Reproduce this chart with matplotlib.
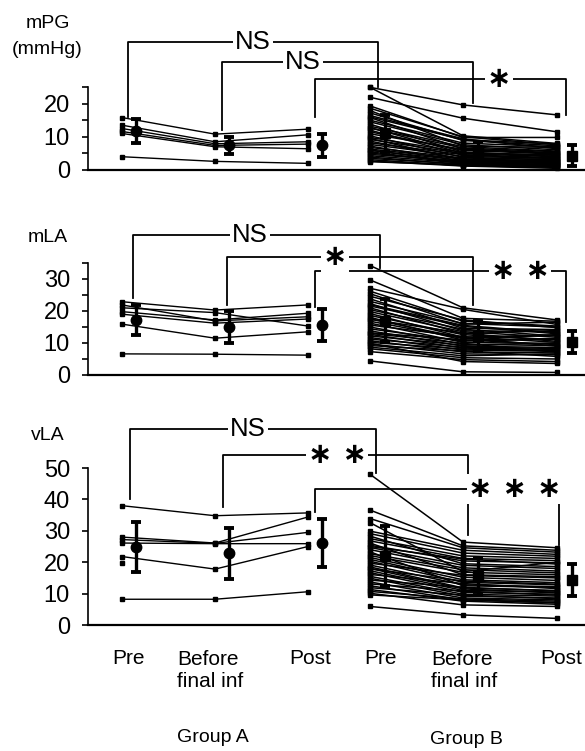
import numpy as np
import matplotlib
matplotlib.use("Agg")
import matplotlib.pyplot as plt
from matplotlib.lines import Line2D

# ---------------- data ----------------
time_labels = ["Pre", "Before\nfinal inf", "Post"]
group_labels = ["Group A", "Group B"]
panel_names = ["mPG\n(mmHg)", "mLA", "vLA"]

# Panel 1: mPG (mmHg)
mpg_A_pre = [15.8, 13.5, 12.5, 11.6, 11.0, 4.0]
mpg_A_bef = [10.8, 8.5, 7.9, 7.4, 7.0, 2.6]
mpg_A_post = [12.3, 10.6, 8.5, 7.8, 6.4, 2.0]
mpg_B_pre = [24.9, 24.9, 21.9, 19.3, 18.6, 17.9, 17.2, 16.4, 15.8, 15.0, 14.5, 13.8, 13.2, 12.6,
             12.0, 11.5, 10.9, 10.3, 9.8, 9.2, 8.7, 8.2, 7.7, 7.2, 6.8, 6.3, 5.9, 5.5, 5.1, 4.7,
             4.3, 3.9, 3.5, 3.1, 2.7, 2.5, 16.0, 12.8, 9.5, 6.0]
mpg_B_bef = [19.6, 10.3, 15.6, 9.8, 10.0, 7.2, 8.9, 9.4, 6.3, 8.1, 7.6, 5.4, 7.0, 6.6,
             4.5, 5.9, 6.2, 3.8, 5.3, 4.9, 3.2, 4.6, 4.1, 2.6, 3.6, 3.3, 2.9, 1.9, 2.4, 2.7,
             2.1, 1.6, 1.8, 1.3, 1.2, 1.5, 9.1, 5.0, 3.0, 2.2]
mpg_B_post = [16.6, 8.0, 11.5, 9.8, 7.6, 6.8, 7.3, 6.4, 5.2, 7.0, 6.1, 4.1, 5.7, 5.5,
              3.4, 4.8, 5.0, 3.0, 4.4, 4.0, 2.6, 3.7, 3.5, 2.0, 3.2, 2.8, 2.4, 1.4, 2.2, 1.9,
              1.6, 1.1, 1.3, 0.8, 0.5, 0.9, 7.8, 4.6, 2.5, 1.7]
mpg_A_mean = [11.8, 7.4, 7.4]
mpg_A_sd = [3.6, 2.6, 3.4]
mpg_B_mean = [11.0, 5.5, 4.3]
mpg_B_sd = [5.5, 3.0, 3.2]

# Panel 2: mLA
mla_A_pre = [22.9, 21.9, 19.8, 19.0, 21.0, 15.9, 6.6]
mla_A_bef = [20.3, 16.9, 17.2, 16.2, 19.5, 11.5, 6.5]
mla_A_post = [21.9, 18.2, 19.3, 17.5, 15.3, 13.5, 6.2]
mla_B_pre = [34.2, 29.7, 27.1, 26.2, 25.4, 24.6, 23.8, 23.0, 22.3, 21.6, 21.0, 20.4, 19.8, 19.2,
             18.6, 18.0, 17.4, 16.8, 16.2, 15.6, 15.0, 14.4, 13.8, 13.2, 12.7, 12.2, 11.7, 11.2,
             10.7, 10.2, 9.7, 9.2, 8.7, 8.2, 7.3, 4.4, 22.0, 17.5, 13.0, 9.9]
mla_B_bef = [21.0, 17.7, 20.5, 16.8, 15.9, 17.2, 14.6, 16.1, 13.8, 15.2, 12.9, 14.3, 13.5, 11.8,
             12.6, 10.9, 13.1, 11.4, 10.2, 12.0, 9.6, 10.6, 9.0, 11.0, 8.4, 9.3, 7.8, 8.7,
             7.2, 8.1, 6.6, 7.5, 6.0, 5.4, 4.8, 1.0, 15.5, 11.6, 9.9, 4.2]
mla_B_post = [17.2, 16.8, 15.8, 15.3, 16.5, 14.8, 14.2, 15.0, 13.6, 12.9, 13.9, 12.2, 11.8, 12.6,
              11.0, 11.4, 10.5, 12.4, 9.8, 10.2, 9.2, 11.2, 8.6, 9.5, 8.0, 10.0, 7.4, 8.3,
              6.9, 7.7, 6.3, 5.8, 6.6, 5.0, 4.2, 0.8, 13.2, 9.0, 7.1, 3.6]
mla_A_mean = [17.2, 14.9, 15.6]
mla_A_sd = [4.6, 5.0, 4.9]
mla_B_mean = [17.0, 12.3, 10.2]
mla_B_sd = [6.8, 4.7, 3.4]

# Panel 3: vLA
vla_A_pre = [38.0, 28.0, 27.2, 26.1, 21.8, 8.2, 19.9]
vla_A_bef = [34.8, 26.1, 26.0, 25.9, 17.8, 8.2, np.nan]
vla_A_post = [35.7, 34.4, 29.5, 25.9, 25.0, 10.6, np.nan]
vla_B_pre = [48.0, 36.6, 33.9, 32.6, 29.9, 29.1, 28.3, 27.5, 26.8, 26.1, 25.4, 24.7, 24.0, 23.3,
             22.7, 22.1, 21.5, 20.9, 20.3, 19.7, 19.1, 18.5, 17.9, 17.3, 16.7, 16.1, 15.5, 14.9,
             14.3, 13.7, 13.1, 12.5, 11.9, 11.3, 10.7, 10.1, 9.6, 5.9, 25.0, 18.0]
vla_B_bef = [26.4, 25.2, 24.6, 17.0, 23.8, 22.9, 19.5, 22.0, 21.2, 16.0, 20.4, 19.0, 18.2, 12.5,
             17.6, 16.8, 15.2, 14.4, 13.6, 15.8, 12.8, 11.8, 14.0, 11.0, 10.4, 13.2, 9.8, 9.2,
             12.0, 8.6, 10.8, 8.0, 9.5, 7.6, 8.3, 6.4, 8.0, 3.2, 21.0, 11.5]
vla_B_post = [24.6, 23.8, 23.2, 20.0, 22.5, 21.9, 18.6, 21.2, 20.5, 15.4, 19.8, 18.0, 17.2, 12.0,
              16.6, 16.0, 14.2, 13.5, 12.8, 15.0, 12.2, 11.0, 13.0, 10.5, 9.8, 11.6, 9.2, 8.6,
              10.8, 8.0, 9.5, 7.2, 8.4, 6.6, 7.6, 5.9, 7.0, 2.1, 19.4, 10.2]
vla_A_mean = [24.8, 22.8, 26.2]
vla_A_sd = [8.0, 8.0, 7.7]
vla_B_mean = [21.9, 15.5, 14.3]
vla_B_sd = [9.5, 5.9, 5.0]

panels = [
    dict(A=(mpg_A_pre, mpg_A_bef, mpg_A_post), B=(mpg_B_pre, mpg_B_bef, mpg_B_post),
         Am=mpg_A_mean, As=mpg_A_sd, Bm=mpg_B_mean, Bs=mpg_B_sd,
         ylim=25, major=[0, 10, 20], minor=[5, 15, 25]),
    dict(A=(mla_A_pre, mla_A_bef, mla_A_post), B=(mla_B_pre, mla_B_bef, mla_B_post),
         Am=mla_A_mean, As=mla_A_sd, Bm=mla_B_mean, Bs=mla_B_sd,
         ylim=35, major=[0, 10, 20, 30], minor=[5, 15, 25, 35]),
    dict(A=(vla_A_pre, vla_A_bef, vla_A_post), B=(vla_B_pre, vla_B_bef, vla_B_post),
         Am=vla_A_mean, As=vla_A_sd, Bm=vla_B_mean, Bs=vla_B_sd,
         ylim=50, major=[0, 10, 20, 30, 40, 50], minor=[]),
]

# ---------------- layout ----------------
W, H = 585, 751
def fx(px):
    return px / W
def fy(py):
    return 1 - py / H

xA = np.array([0.0, 1.0, 2.0])
xB = np.array([2.667, 3.667, 4.677])
offA, offB = 0.15, 0.16
axes_px = [(170, 87), (375, 263), (625, 468)]

fig = plt.figure(figsize=(W / 100, H / 100), dpi=100)
TF = "Liberation Sans"

for (y0, y1), p in zip(axes_px, panels):
    ax = fig.add_axes([fx(88), fy(y0), 1 - fx(88), (y0 - y1) / H])
    ax.set_xlim((88 - 122) / 93, (585 - 122) / 93)
    ax.set_ylim(0, p["ylim"])
    for s in ("top", "right"):
        ax.spines[s].set_visible(False)
    ax.spines["left"].set_linewidth(1.2)
    ax.spines["bottom"].set_linewidth(1.6)
    ax.set_xticks([])
    ax.set_yticks(p["major"])
    ax.set_yticks(p["minor"], minor=True)
    ax.tick_params(axis="y", which="both", length=4, width=1.2, direction="out", pad=9,
                   labelsize=17)
    for lab in ax.get_yticklabels():
        lab.set_family(TF)

    A = np.array(p["A"], dtype=float)
    for i in range(A.shape[1]):
        ax.plot(xA, A[:, i], "-", color="black", lw=1.0, marker="s", ms=2.8, clip_on=False)
    B = np.array(p["B"], dtype=float)
    for i in range(B.shape[1]):
        ax.plot(xB, B[:, i], "-", color="black", lw=1.1, marker="s", ms=2.6, clip_on=False)
    ax.errorbar(xA + offA, p["Am"], yerr=p["As"], fmt="o", color="black", ms=7.5,
                elinewidth=2.4, capsize=3.5, capthick=2.8, zorder=5)
    ax.errorbar(xB + offB, p["Bm"], yerr=p["Bs"], fmt="s", color="black", ms=7.5,
                elinewidth=2.4, capsize=3.5, capthick=2.8, zorder=5)

# y labels
fig.text(fx(48), fy(24), "mPG", ha="center", va="center", fontsize=14, family=TF)
fig.text(fx(47), fy(50), "(mmHg)", ha="center", va="center", fontsize=14, family=TF)
fig.text(fx(48), fy(238), "mLA", ha="center", va="center", fontsize=14, family=TF)
fig.text(fx(48), fy(436), "vLA", ha="center", va="center", fontsize=14, family=TF)

# significance brackets: (x_left, y_left_end, y_top, x_right, y_right_end, label, label_x)
brackets = [
    (128, 117, 42, 378, 87, "NS", 253),
    (222, 130, 62, 473, 103, "NS", 303),
    (315, 117, 79, 566, 115, "∗", 499),
    (133, 298, 235, 380, 268, "NS", 250),
    (227, 305, 257, 473, 305, "∗", 335),
    (315, 307, 271, 566, 322, "∗ ∗", 520),
    (130, 499, 429, 376, 473, "NS", 248),
    (223, 507, 455, 468, 535, "∗ ∗", 337),
    (315, 512, 489, 559, 545, "∗ ∗ ∗", 515),
]
for xl, yl, yt, xr, yr, lab, lx in brackets:
    fig.add_artist(Line2D([fx(xl), fx(xl), fx(xr), fx(xr)], [fy(yl), fy(yt), fy(yt), fy(yr)],
                          color="black", lw=1.3, zorder=2))
    if lab == "NS":
        fig.text(fx(lx), fy(yt), lab, ha="center", va="center", fontsize=18.5, family=TF,
                 bbox=dict(fc="white", ec="none", pad=1.5), zorder=3)
    else:
        fig.text(fx(lx), fy(yt), lab, ha="center", va="center", fontsize=21,
                 family="DejaVu Sans", fontweight="bold",
                 bbox=dict(fc="white", ec="none", pad=1.0), zorder=3)

# x category labels
XF = ["Liberation Sans Narrow", "Liberation Sans"]
for cx, lab in zip([128, 310, 381, 561], ["Pre", "Post", "Pre", "Post"]):
    fig.text(fx(cx), fy(658), lab, ha="center", va="center", fontsize=15, family=XF)
for lx in [177, 431]:
    fig.text(fx(lx), fy(670.5), time_labels[1], ha="left", va="center", fontsize=15,
             family=XF, linespacing=1.2, multialignment="left")
fig.text(fx(177), fy(738), group_labels[0], ha="left", va="center", fontsize=14, family=XF)
fig.text(fx(430), fy(740), group_labels[1], ha="left", va="center", fontsize=14, family=XF)

fig.savefig("out.png", dpi=100)
